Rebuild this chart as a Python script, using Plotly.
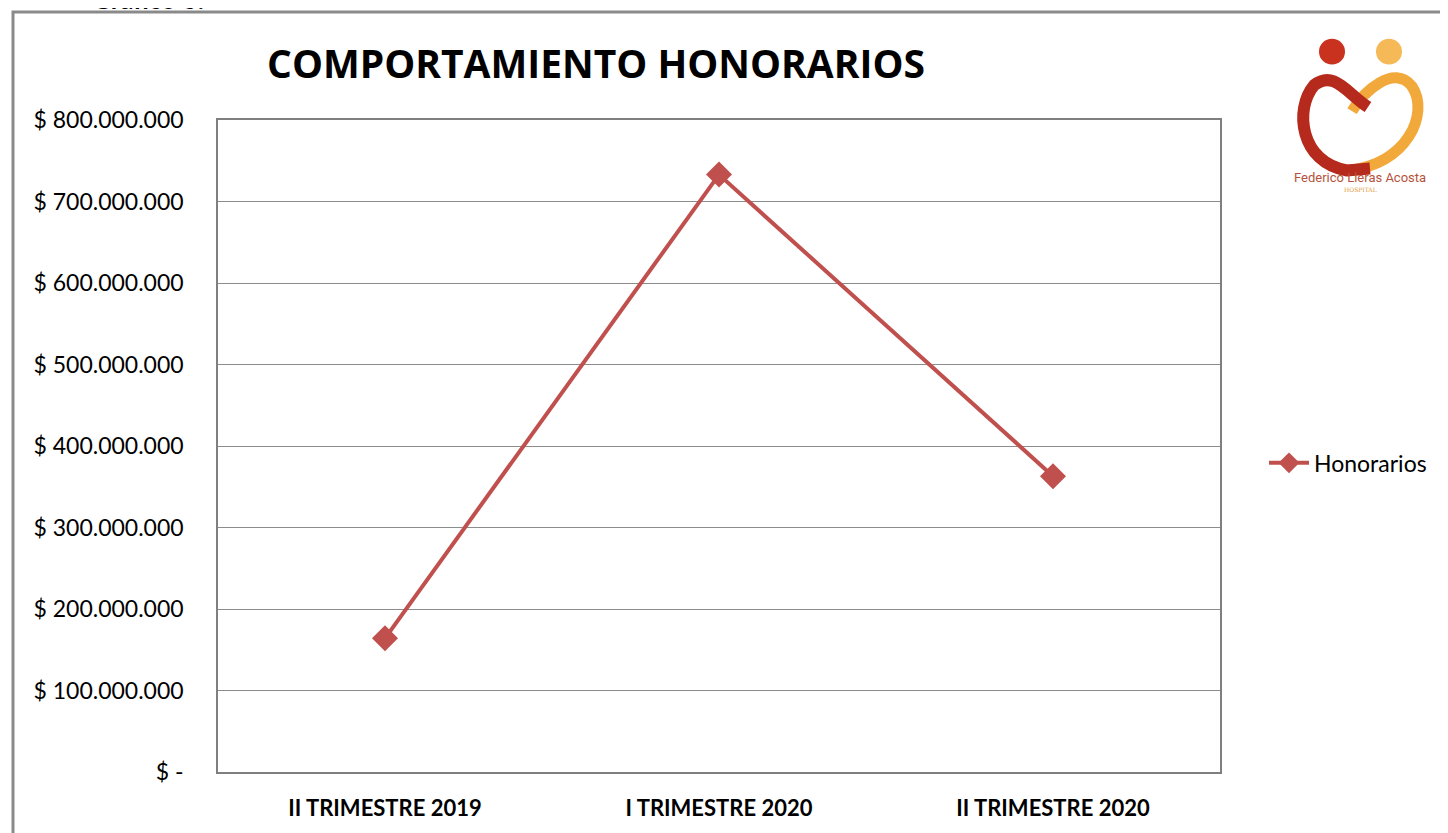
import plotly.graph_objects as go

categories = ["II TRIMESTRE 2019", "I TRIMESTRE 2020", "II TRIMESTRE 2020"]
honorarios = [164000000, 733000000, 363000000]
tick_vals = [0, 100000000, 200000000, 300000000, 400000000, 500000000, 600000000, 700000000, 800000000]


def fmt(v):
    if v == 0:
        return "$ -"
    return "$ " + f"{v:,}".replace(",", ".")


tick_text = [fmt(v) for v in tick_vals]

# page body offset: figure coords = screen coords - offset
OFFX, OFFY = 6, 7
W, H = 1448 - 8, 833 - 8
L, R, T, B = 216, 1218, 119, 777  # plot area in screen pixels


def px(x):
    return (x - L) / (R - L)


def py(y):
    return (B - y) / (B - T)


RED = "#C0504D"

fig = go.Figure()
fig.add_trace(go.Scatter(
    x=categories, y=honorarios, mode="lines+markers", name="Honorarios",
    line=dict(color=RED, width=4),
    marker=dict(symbol="diamond", size=20, color=RED),
))

shapes = []
# outer frame
shapes.append(dict(type="rect", xref="paper", yref="paper",
                   x0=px(11), x1=px(1470), y0=py(10), y1=py(860),
                   line=dict(color="#8a8a8a", width=3), fillcolor="rgba(0,0,0,0)", layer="below"))


def path_from(points):
    out = []
    for cmd, coords in points:
        conv = []
        for i in range(0, len(coords), 2):
            conv.append(f"{px(coords[i]):.5f},{py(coords[i+1]):.5f}")
        out.append(cmd + " " + " ".join(conv))
    return " ".join(out)


# logo: heads
shapes.append(dict(type="circle", xref="paper", yref="paper",
                   x0=px(1317), x1=px(1343), y0=py(37), y1=py(63),
                   fillcolor="#C8321F", line=dict(width=0)))
shapes.append(dict(type="circle", xref="paper", yref="paper",
                   x0=px(1374), x1=px(1400), y0=py(37), y1=py(63),
                   fillcolor="#F6B957", line=dict(width=0)))
# orange body
shapes.append(dict(type="path", xref="paper", yref="paper",
                   path=path_from([("M", [1350, 110]), ("C", [1362, 90, 1392, 62, 1410, 85]),
                                   ("C", [1428, 112, 1405, 165, 1345, 170])]),
                   line=dict(color="#F2A93B", width=11), fillcolor="rgba(0,0,0,0)"))
# red body
shapes.append(dict(type="path", xref="paper", yref="paper",
                   path=path_from([("M", [1366, 106]), ("C", [1345, 92, 1332, 68, 1312, 84]),
                                   ("C", [1292, 108, 1298, 162, 1345, 170]),
                                   ("L", [1368, 168])]),
                   line=dict(color="#B52A1C", width=12), fillcolor="rgba(0,0,0,0)"))

annotations = [
    dict(text="<b>Gráfico 6:</b>", xref="paper", yref="paper", x=px(88), y=py(-3),
         xanchor="left", yanchor="middle", showarrow=False,
         font=dict(family="Lato, Arial", size=26, color="black")),
    dict(text="Federico Lleras Acosta", xref="paper", yref="paper", x=px(1358), y=py(177),
         xanchor="center", yanchor="middle", showarrow=False,
         font=dict(family="Liberation Sans Narrow, Roboto, Arial", size=13, color="#B5523B")),
    dict(text="HOSPITAL", xref="paper", yref="paper", x=px(1358), y=py(189),
         xanchor="center", yanchor="middle", showarrow=False,
         font=dict(family="DejaVu Serif, serif", size=6, color="#E39A3A")),
]

fig.update_layout(
    width=W, height=H,
    margin=dict(l=L - OFFX, r=W - (R - OFFX), t=T - OFFY, b=H - (B - OFFY), pad=0),
    paper_bgcolor="white", plot_bgcolor="white",
    font=dict(family="Lato, Open Sans, Arial", color="black"),
    title=dict(text="<b>COMPORTAMIENTO HONORARIOS</b>", x=px(594), xref="paper", xanchor="center",
               y=1 - (63 - OFFY) / H, yanchor="middle",
               font=dict(family="Open Sans, Arial", size=39, color="black")),
    xaxis=dict(range=[-0.5, 2.5], showgrid=False, showline=True, mirror=True,
               linecolor="#7f7f7f", linewidth=1.5, ticks="", zeroline=False,
               tickfont=dict(family="Lato, Arial", size=22, color="black"),
               ticklabelstandoff=16,
               tickvals=categories, ticktext=[f"<b>{c}</b>" for c in categories]),
    yaxis=dict(range=[0, 800000000], tickvals=tick_vals, ticktext=tick_text,
               showgrid=True, gridcolor="#8c8c8c", gridwidth=1,
               showline=True, mirror=True, linecolor="#7f7f7f", linewidth=1.5,
               zeroline=False, ticks="", ticklabelstandoff=28,
               tickfont=dict(family="Lato, Arial", size=23, color="black")),
    showlegend=True,
    legend=dict(x=px(1262), y=py(465), xanchor="left", yanchor="middle",
                font=dict(family="Lato, Arial", size=23, color="black"),
                bgcolor="rgba(0,0,0,0)", itemwidth=40),
    shapes=shapes,
    annotations=annotations,
)

fig.write_html("out.html")
